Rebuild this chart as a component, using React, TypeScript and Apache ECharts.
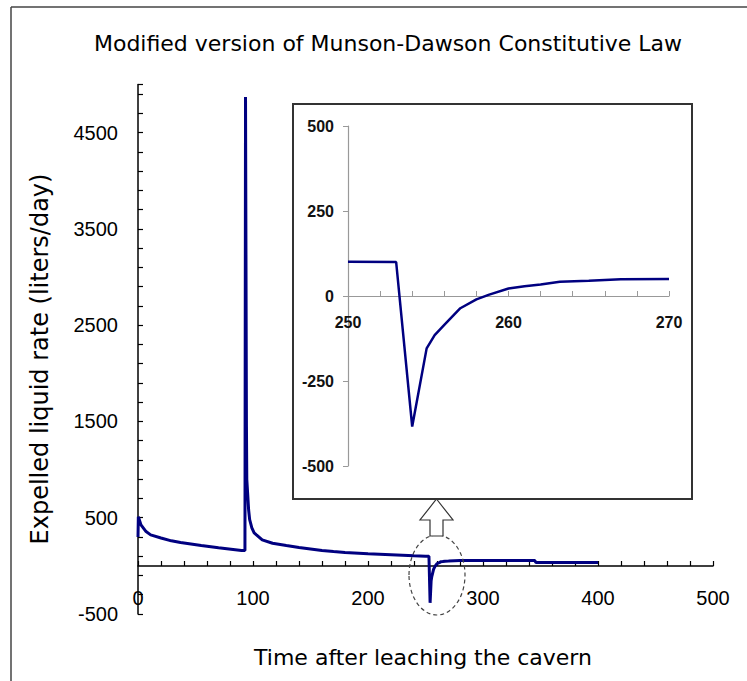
import React, { useEffect, useRef } from "react";
import * as echarts from "echarts";

// Time after leaching (days) and expelled liquid rate (liters/day)
const timeDays = [
  0, 0.3, 2.6, 7, 11, 20, 29, 37, 55, 70,
  90, 93, 93.5, 94.3, 94.6, 95.3, 96.2, 97.1, 99, 101,
  103, 108, 117, 129, 140, 160, 170, 180, 200, 220,
  240, 250, 253, 254, 254.9, 255.4, 256, 257, 258, 258.8,
  260, 261, 262, 263.2, 265, 267, 270, 280, 345, 346,
  400,
];
const rateLitersPerDay = [
  300, 510, 425, 356, 322, 290, 260, 242, 211, 187,
  160, 160, 4870, 1450, 900, 760, 580, 480, 395, 343,
  322, 270, 235, 211, 190, 159, 148, 138, 125, 115,
  105, 101, 100, -384, -154, -115, -85, -36, -10, 4,
  22, 29, 34, 42, 45, 49, 50, 55, 55, 35,
  35,
];

const insetRange = [250, 270];
const mainXTicks = [0, 100, 200, 300, 400, 500];
const mainYLabels = [-500, 500, 1500, 2500, 3500, 4500];
const insetXLabels = [250, 260, 270];

const titleText = "Modified version of Munson-Dawson Constitutive Law";
const xTitle = "Time after leaching the cavern";
const yTitle = "Expelled liquid rate (liters/day)";

const W = 747;
const H = 681;

export default function App() {
  const ref = useRef<HTMLDivElement>(null);
  useEffect(() => {
    if (!ref.current) return;
    const chart = echarts.init(ref.current, null, { renderer: "svg" });
    const mainData = timeDays.map((t, i) => [t, rateLitersPerDay[i]]);
    const insetData = timeDays
      .map((t, i) => [t, rateLitersPerDay[i]])
      .filter((p) => p[0] >= insetRange[0] && p[0] <= insetRange[1]);
    const tickFont = "'Liberation Sans', Arial, sans-serif";
    const titleFont = "'DejaVu Sans', Verdana, sans-serif";
    const navy = "#000080";
    chart.setOption({
      animation: false,
      backgroundColor: "#ffffff",
      grid: [
        { left: 138, right: 34, top: 84.5, bottom: 67 },
        { left: 348, right: 78, top: 126, bottom: 215, z: 10 },
      ],
      xAxis: [
        {
          type: "value",
          gridIndex: 0,
          min: 0,
          max: 500,
          interval: 20,
          offset: -48,
          axisLine: { onZero: false, lineStyle: { color: "#000", width: 1.5 } },
          axisTick: { inside: true, length: 5, lineStyle: { color: "#000", width: 1.2 } },
          axisLabel: {
            margin: 22,
            fontSize: 20,
            color: "#000",
            fontFamily: tickFont,
            formatter: (v: number) => (mainXTicks.includes(v) ? String(v) : ""),
          },
          splitLine: { show: false },
        },
        {
          type: "value",
          gridIndex: 1,
          min: insetRange[0],
          max: insetRange[1],
          interval: 2,
          offset: -170,
          z: 10,
          axisLine: { onZero: false, lineStyle: { color: "#999", width: 1.2 } },
          axisTick: { inside: true, length: 5, lineStyle: { color: "#999", width: 1 } },
          axisLabel: {
            margin: 18,
            fontSize: 16,
            fontWeight: "bold",
            color: "#111",
            fontFamily: tickFont,
            formatter: (v: number) => (insetXLabels.includes(v) ? String(v) : ""),
          },
          splitLine: { show: false },
        },
      ],
      yAxis: [
        {
          type: "value",
          gridIndex: 0,
          min: -500,
          max: 5000,
          interval: 200,
          axisLine: { show: true, onZero: false, lineStyle: { color: "#000", width: 1.5 } },
          axisTick: { show: true, inside: true, length: 5, lineStyle: { color: "#000", width: 1.2 } },
          axisLabel: {
            margin: 20,
            fontSize: 20,
            color: "#000",
            fontFamily: tickFont,
            formatter: (v: number) => (mainYLabels.includes(v) ? String(v) : ""),
          },
          splitLine: { show: false },
        },
        {
          type: "value",
          gridIndex: 1,
          min: -500,
          max: 500,
          interval: 250,
          z: 10,
          axisLine: { show: true, onZero: false, lineStyle: { color: "#999", width: 1.2 } },
          axisTick: { show: true, inside: false, length: 5, lineStyle: { color: "#999", width: 1 } },
          axisLabel: {
            margin: 14,
            fontSize: 16,
            fontWeight: "bold",
            color: "#111",
            fontFamily: tickFont,
          },
          splitLine: { show: false },
        },
      ],
      series: [
        {
          type: "line",
          xAxisIndex: 0,
          yAxisIndex: 0,
          data: mainData,
          showSymbol: false,
          symbol: "none",
          z: 2,
          lineStyle: { color: navy, width: 3 },
        },
        {
          type: "line",
          xAxisIndex: 1,
          yAxisIndex: 1,
          data: insetData,
          showSymbol: false,
          symbol: "none",
          z: 12,
          lineStyle: { color: navy, width: 2.5 },
        },
      ],
      graphic: [
        { type: "line", z: 1, shape: { x1: 11, y1: 7, x2: W, y2: 7 }, style: { stroke: "#444", lineWidth: 1.5 } },
        { type: "line", z: 1, shape: { x1: 11, y1: 7, x2: 11, y2: H }, style: { stroke: "#444", lineWidth: 1.5 } },
        {
          type: "rect",
          z: 5,
          shape: { x: 293, y: 104, width: 399, height: 395 },
          style: { fill: "#fff", stroke: "#333", lineWidth: 2 },
        },
        {
          type: "ellipse",
          z: 6,
          shape: { cx: 437, cy: 575, rx: 28, ry: 40 },
          style: { fill: "none", stroke: "#444", lineWidth: 1.2, lineDash: [4, 3] },
        },
        {
          type: "polygon",
          z: 6,
          shape: {
            points: [
              [436.5, 499], [453, 520], [443, 520], [443, 536],
              [430, 536], [430, 520], [420, 520],
            ],
          },
          style: { fill: "#fff", stroke: "#333", lineWidth: 1.2 },
        },
        {
          type: "text",
          z: 6,
          x: 388,
          y: 43,
          style: { text: titleText, fontSize: 22, fontFamily: titleFont, fill: "#000", textAlign: "center", textVerticalAlign: "middle" },
        },
        {
          type: "text",
          z: 6,
          x: 423,
          y: 657,
          style: { text: xTitle, fontSize: 22, fontFamily: titleFont, fill: "#000", textAlign: "center", textVerticalAlign: "middle" },
        },
        {
          type: "text",
          z: 6,
          x: 40,
          y: 359,
          rotation: Math.PI / 2,
          style: { text: yTitle, fontSize: 24, fontFamily: titleFont, fill: "#000", textAlign: "center", textVerticalAlign: "middle" },
        },
      ],
    });
    return () => chart.dispose();
  }, []);
  return (
    <div
      ref={ref}
      style={{ position: "fixed", left: 0, top: 0, width: W, height: H, background: "#fff" }}
    />
  );
}
